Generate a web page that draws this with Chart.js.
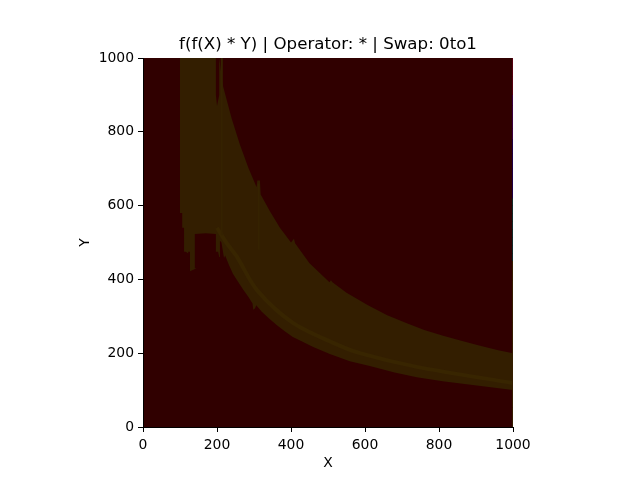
<!DOCTYPE html>
<html>
<head>
<meta charset="utf-8">
<script src="https://cdn.jsdelivr.net/npm/chart.js@4"></script>
<style>
  html, body { margin: 0; padding: 0; background: #fff; }
  canvas { display: block; }
</style>
</head>
<body>
<canvas id="myChart" width="640" height="480"></canvas>
<script>
const chartTitle = "f(f(X) * Y) | Operator: * | Swap: 0to1";
const xLabel = "X";
const yLabel = "Y";
const tickValues = [0, 200, 400, 600, 800, 1000];

// outline of the whole plot background
const backgroundX = [0, 1000, 1000, 0];
const backgroundY = [0, 0, 1000, 1000];

// outline of the band, clockwise from the top left corner
const bandX = [100, 100, 106, 106, 111, 111, 116, 122, 122, 127, 127, 145, 140, 140, 170, 197, 197, 203, 206, 208,
  212, 219, 222, 232, 243, 256, 271, 285, 296, 298, 303, 306, 321, 340, 362, 384, 405, 430, 460, 505, 559, 613, 680, 740, 810, 875, 940, 1000,
  1000, 960, 911, 860, 811, 760, 713, 660, 608, 550, 512, 508, 504, 450, 411, 408, 400, 370, 343, 318, 316, 309, 307, 285, 262, 240, 216, 206,
  206, 200, 197, 197];
const bandY = [1000, 580, 580, 540, 540, 475, 475, 470, 475, 475, 422, 430, 430, 523, 525, 523, 475, 475, 461, 505,
  500, 458, 465, 440, 415, 395, 372, 352, 335, 318, 322, 330, 312, 295, 276, 259, 244, 232, 217, 198, 178, 165, 148, 135, 124, 116, 108, 100,
  200, 208, 220, 234, 247, 263, 281, 303, 330, 364, 392, 398, 392, 444, 498, 510, 500, 540, 585, 630, 668, 668, 650, 702, 765, 835, 925, 1000,
  900, 870, 900, 1000];

// brighter curved streak inside the band
const streakX = [200, 225, 254, 308, 405, 514, 586, 740, 1000];
const streakY = [540, 500, 461, 371, 282, 228, 200, 163, 119];

// faint vertical streaks
const vStreakAX = [213, 213];
const vStreakAY = [1000, 520];
const vStreakBX = [313, 313];
const vStreakBY = [660, 480];

// 1px coloured strip on the right edge
const edgeY = [1000, 900, 780, 620, 450, 0];
const edgeColours = ["#5a0012", "#3c0048", "#1c0050", "#0c3030", "#352000"];

function toPoints(xs, ys) {
  return xs.map((x, i) => ({ x: x, y: ys[i] }));
}

function shape(xs, ys, colour) {
  return { data: toPoints(xs, ys), showLine: true, fill: "shape", backgroundColor: colour, borderWidth: 0, pointRadius: 0 };
}

function stroke(xs, ys, colour, width) {
  return { data: toPoints(xs, ys), showLine: true, fill: false, borderColor: colour, borderWidth: width, pointRadius: 0, tension: 0.3 };
}

const edgeSets = edgeColours.map((c, i) => stroke([999, 999], [edgeY[i], edgeY[i + 1]], c, 1));

const datasets = [
  ...edgeSets,
  stroke(vStreakBX, vStreakBY, "#352200", 2),
  stroke(vStreakAX, vStreakAY, "#352200", 2),
  stroke(streakX, streakY, "#382500", 4),
  shape(bandX, bandY, "#331e00"),
  shape(backgroundX, backgroundY, "#300000")
];

const font = { family: "'DejaVu Sans'", size: 13.9 };
const plainTick = v => String(v);

new Chart(document.querySelector("#myChart"), {
  type: "scatter",
  data: { datasets: datasets },
  options: {
    responsive: false,
    animation: false,
    events: [],
    layout: { padding: { left: 0, right: 127, top: 0, bottom: 0 } },
    plugins: {
      legend: { display: false },
      tooltip: { enabled: false },
      title: {
        display: true,
        text: chartTitle,
        fullSize: false,
        color: "#000",
        font: { family: "'DejaVu Sans'", size: 16.67, weight: "normal" },
        padding: { top: 35, bottom: 3 }
      }
    },
    scales: {
      x: {
        min: 0,
        max: 1000,
        afterBuildTicks: s => { s.ticks = tickValues.map(v => ({ value: v })); },
        afterFit: s => { s.height = 53; },
        grid: { drawOnChartArea: false, tickLength: 5, tickColor: "#000", tickWidth: 1 },
        border: { color: "#000", width: 1, z: 1 },
        ticks: { color: "#000", font: font, padding: 5, maxRotation: 0, autoSkip: false, callback: plainTick },
        title: { display: true, text: xLabel, color: "#000", font: font, padding: { top: 0, bottom: 8 } }
      },
      y: {
        min: 0,
        max: 1000,
        afterBuildTicks: s => { s.ticks = tickValues.map(v => ({ value: v })); },
        afterFit: s => { s.width = 143; },
        grid: { drawOnChartArea: false, tickLength: 5, tickColor: "#000", tickWidth: 1 },
        border: { color: "#000", width: 1, z: 1 },
        ticks: { color: "#000", font: font, padding: 4, autoSkip: false, callback: plainTick },
        title: { display: true, text: yLabel, color: "#000", font: font, padding: { top: 77, bottom: 0 } }
      }
    }
  }
});
</script>
</body>
</html>
